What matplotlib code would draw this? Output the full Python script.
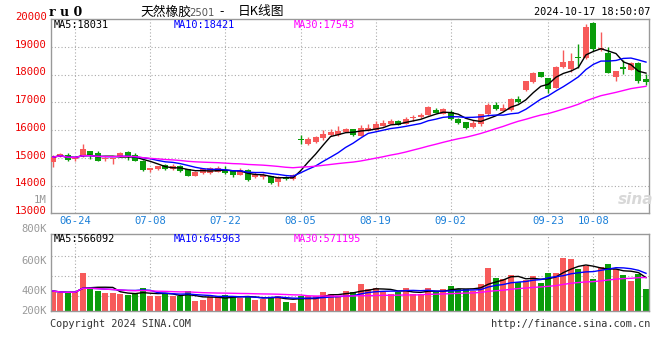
import numpy as np
import pandas as pd
import matplotlib
matplotlib.use("Agg")
import matplotlib.pyplot as plt

plt.rcParams["font.family"] = ["DejaVu Sans Mono"]

# 交易日 (2024)
dates = ["06-19", "06-20", "06-21", "06-24", "06-25", "06-26", "06-27", "06-28",
         "07-01", "07-02", "07-03", "07-04", "07-05", "07-08", "07-09", "07-10",
         "07-11", "07-12", "07-15", "07-16", "07-17", "07-18", "07-19", "07-22",
         "07-23", "07-24", "07-25", "07-26", "07-29", "07-30", "07-31", "08-01",
         "08-02", "08-05", "08-06", "08-07", "08-08", "08-09", "08-12", "08-13",
         "08-14", "08-15", "08-16", "08-19", "08-20", "08-21", "08-22", "08-23",
         "08-26", "08-27", "08-28", "08-29", "08-30", "09-02", "09-03", "09-04",
         "09-05", "09-06", "09-09", "09-10", "09-11", "09-12", "09-13", "09-18",
         "09-19", "09-20", "09-23", "09-24", "09-25", "09-26", "09-27", "09-30",
         "10-08", "10-09", "10-10", "10-11", "10-14", "10-15", "10-16", "10-17"]

opens = [14860, 15055, 15090, 14950, 15080, 15245, 15160, 14960, 14960, 15055,
         15210, 15100, 14885, 14560, 14600, 14730, 14600, 14715, 14585, 14355,
         14440, 14465, 14500, 14560, 14525, 14380, 14560, 14300, 14300, 14345,
         14140, 14320, 14240, 15660, 15500, 15570, 15700, 15810, 15830, 15940,
         16030, 15785, 15980, 16000, 16145, 16220, 16335, 16220, 16425, 16460,
         16540, 16720, 16580, 16650, 16387, 16279, 16100, 16207, 16578, 16902,
         16697, 16722, 17107, 17443, 17720, 18080, 17864, 17525, 18280, 18190,
         18620, 18585, 19870, 18883, 18787, 17922, 18282, 18163, 18426, 17840]
highs = [15100, 15160, 15160, 15030, 15500, 15250, 15230, 15020, 15010, 15210,
         15250, 15160, 14930, 14650, 14720, 14760, 14760, 14740, 14610, 14530,
         14640, 14660, 14705, 14700, 14540, 14620, 14580, 14490, 14450, 14360,
         14345, 14340, 14420, 15820, 15740, 15770, 16000, 16040, 16150, 16085,
         16050, 16180, 16220, 16325, 16350, 16385, 16350, 16470, 16540, 16600,
         16865, 16810, 16780, 16722, 16434, 16300, 16362, 16590, 16985, 17010,
         16920, 17143, 17226, 17780, 18090, 18100, 17880, 18300, 18883, 18775,
         19100, 19810, 19890, 19530, 18991, 18140, 18523, 18451, 18440, 18019]
lows = [14680, 15020, 14900, 14890, 15040, 14950, 14880, 14880, 14770, 15040,
        14920, 14890, 14525, 14500, 14550, 14560, 14560, 14500, 14330, 14340,
        14420, 14400, 14480, 14420, 14320, 14370, 14165, 14270, 14250, 14060,
        13985, 14200, 14200, 15500, 15460, 15550, 15640, 15790, 15785, 15930,
        15785, 15770, 15950, 15990, 16130, 16210, 16170, 16200, 16325, 16450,
        16530, 16600, 16560, 16362, 16220, 16050, 16080, 16145, 16517, 16722,
        16680, 16700, 16974, 17396, 17700, 17900, 17335, 17500, 18250, 18090,
        18235, 18560, 18850, 18850, 18050, 17767, 18019, 18150, 17695, 17623]
closes = [15020, 15125, 14920, 14990, 15320, 15080, 14900, 14990, 15000, 15175,
          15080, 14900, 14560, 14640, 14715, 14585, 14700, 14535, 14355, 14500,
          14600, 14620, 14620, 14440, 14380, 14560, 14200, 14410, 14380, 14105,
          14300, 14225, 14380, 15640, 15665, 15740, 15845, 15940, 15965, 16030,
          15825, 16065, 16065, 16200, 16265, 16335, 16180, 16390, 16480, 16540,
          16820, 16625, 16750, 16410, 16243, 16085, 16243, 16567, 16902, 16758,
          16783, 17107, 17021, 17767, 18066, 17922, 17468, 18280, 18462, 18487,
          18585, 19720, 18910, 18945, 18066, 18138, 18210, 18405, 17778, 17720]
# 成交量 (千手)
volumes = [344, 310, 310, 332, 659, 390, 349, 315, 315, 287,
           275, 304, 401, 263, 253, 298, 253, 258, 344, 172,
           189, 236, 241, 275, 241, 229, 263, 189, 212, 246,
           258, 155, 143, 253, 258, 258, 327, 298, 264, 344,
           327, 464, 378, 396, 327, 292, 327, 396, 292, 292,
           396, 327, 378, 430, 378, 378, 344, 464, 740, 568,
           550, 619, 499, 533, 602, 482, 654, 654, 912, 894,
           722, 774, 550, 757, 808, 722, 619, 516, 636, 378]

# 图上标注的均线数值
ma_periods = [5, 10, 30]
price_ma_text = [18031, 18421, 17543]
vol_ma_text = [566092, 645963, 571195]

tick_dates = ["06-24", "07-08", "07-22", "08-05", "08-19", "09-02", "09-23", "10-08"]
price_levels = [20000, 19000, 18000, 17000, 16000, 15000, 14000, 13000]
vol_grid = [263, 607, 951]
vol_labels = [("1M", 200), ("800K", 229.5), ("600K", 260.5), ("400K", 291), ("200K", 310.5)]

RED = "#f75a5a"
GREEN = "#0a9c0a"
GRID = "#aaaaaa"
EDGE = "#999999"
MA_COLORS = ["black", "#0000ff", "#ff00ff"]

df = pd.DataFrame({"o": opens, "h": highs, "l": lows, "c": closes, "v": volumes})
x = np.arange(len(df))
up = df["c"] >= df["o"]
colors = np.where(up, RED, GREEN)
tick_idx = [dates.index(d) for d in tick_dates]

W, H = 660, 360
fig = plt.figure(figsize=(6.6, 3.6), dpi=100)


def fx(px):
    return px / W


def fy(py):
    return 1 - py / H


ax = fig.add_axes([fx(50.7), fy(213.3), fx(649.3 - 50.7), (213.3 - 19) / H])
axv = fig.add_axes([fx(50.7), fy(311), fx(649.3 - 50.7), (311 - 234.3) / H])

for a in (ax, axv):
    a.set_xlim(-0.27, 79.44)
    a.set_xticks([])
    a.set_yticks([])
    for s in a.spines.values():
        s.set_color(EDGE)
        s.set_linewidth(1.0)
    for i in tick_idx:
        a.axvline(i, color=GRID, lw=0.8, ls=(0, (1, 2)), zorder=0)

# 价格
ax.set_ylim(13000, 20000)
for p in price_levels[1:-1]:
    ax.axhline(p, color=GRID, lw=0.8, ls=(0, (1, 2)), zorder=0)
ax.vlines(x, df["l"], df["h"], colors=colors, lw=1.0, zorder=2)
body = (df["c"] - df["o"]).abs().clip(lower=35)
ax.bar(x, body, bottom=df[["o", "c"]].min(axis=1), width=0.8, color=colors, zorder=3)

for n, col in zip(ma_periods, MA_COLORS):
    ax.plot(x, df["c"].rolling(n, min_periods=1).mean(), color=col, lw=1.0, zorder=4)

ytr = ax.get_yaxis_transform()
for p in price_levels:
    ax.text(-0.0067, p + 80, str(p), transform=ytr, ha="right", va="center",
            color="#ee0000", fontsize=7.6, clip_on=False)

for i, d in zip(tick_idx, tick_dates):
    fig.text(fx(52.7 + 7.51 * i), fy(221), d, ha="center", va="center",
             color="#1a7fd8", fontsize=7.6)

# 成交量
axv.set_ylim(0, 1319)
for v in vol_grid:
    axv.axhline(v, color=GRID, lw=0.8, ls=(0, (1, 2)), zorder=0)
axv.bar(x, df["v"], width=0.8, color=colors, zorder=2)
for n, col in zip(ma_periods, MA_COLORS):
    axv.plot(x, df["v"].rolling(n, min_periods=1).mean(), color=col, lw=1.0, zorder=3)

for lab, py in vol_labels:
    fig.text(fx(46.5), fy(py), lab, ha="right", va="center", color="#999999", fontsize=7.6)

# MA 标签
for n, col, xp, pv, vv in zip(ma_periods, MA_COLORS, [54, 174, 294], price_ma_text, vol_ma_text):
    fig.text(fx(xp), fy(24.5), f"MA{n}:{pv}", color=col, fontsize=7.4, va="center")
    fig.text(fx(xp), fy(239.5), f"MA{n}:{vv}", color=col, fontsize=7.4, va="center")

# 标题
fig.text(fx(49), fy(12), "r u 0", fontsize=9, fontweight="bold", va="center",
         family=["DejaVu Serif"])
cjk = ["Noto Sans CJK SC", "DejaVu Sans"]
fig.text(fx(140), fy(12), "天然橡胶", fontsize=9.2, va="center", family=cjk)
fig.text(fx(189), fy(12.5), "2501", fontsize=7.2, va="center", color="#555555",
         family=["DejaVu Sans"])
fig.text(fx(219), fy(12), "-", fontsize=9, va="center", family=cjk)
fig.text(fx(238), fy(12), "日K线图", fontsize=9.2, va="center", family=cjk)
fig.text(fx(650), fy(12), "2024-10-17 18:50:07", fontsize=7.4, ha="right", va="center")

# 页脚
fig.text(fx(50), fy(324), "Copyright 2024 SINA.COM", fontsize=7.4, va="center", color="#333333")
fig.text(fx(650), fy(324), "http://finance.sina.com.cn", fontsize=7.4, ha="right",
         va="center", color="#333333")

# 水印
fig.text(fx(636), fy(200), "sina", fontsize=11, fontweight="bold", style="italic",
         ha="center", va="center", color="#d8d8d8", family=["DejaVu Sans"])

fig.savefig("out.png", dpi=100)
plt.close(fig)
